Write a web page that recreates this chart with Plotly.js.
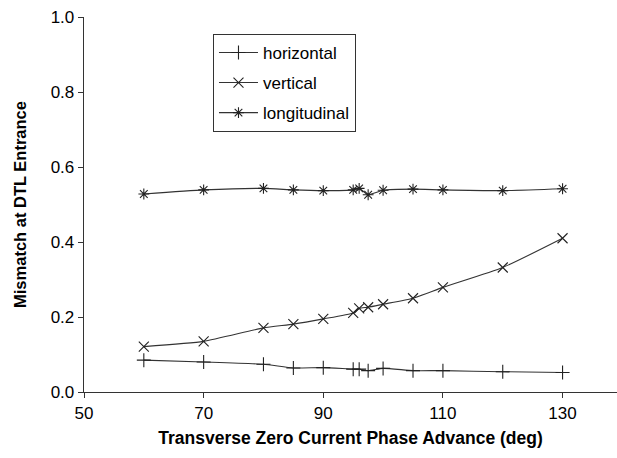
<!DOCTYPE html>
<html>
<head>
<meta charset="utf-8">
<script src="https://cdn.plot.ly/plotly-3.0.1.min.js"></script>
<style>html,body{margin:0;padding:0;background:#fff;}#chart{width:617px;height:458px;}</style>
</head>
<body>
<div id="chart"></div>
<script>
var phaseAdvance = [60, 70, 80, 85, 90, 95, 96, 97.5, 100, 105, 110, 120, 130];
var horizontal   = [0.085, 0.080, 0.074, 0.064, 0.065, 0.061, 0.061, 0.057, 0.063, 0.057, 0.057, 0.054, 0.052];
var vertical     = [0.121, 0.135, 0.171, 0.181, 0.195, 0.211, 0.223, 0.226, 0.234, 0.250, 0.279, 0.332, 0.410];
var longitudinal = [0.528, 0.539, 0.543, 0.539, 0.537, 0.539, 0.543, 0.526, 0.538, 0.541, 0.539, 0.537, 0.542];
var seriesNames  = ["horizontal", "vertical", "longitudinal"];
var xTicks = [50, 70, 90, 110, 130];
var yTicks = [0.0, 0.2, 0.4, 0.6, 0.8, 1.0];

var symbols = ["cross-thin-open", "x-thin-open", "asterisk-open"];
var sizes = [10, 10, 9];
var ys = [horizontal, vertical, longitudinal];
var traces = ys.map(function (y, i) {
  return {
    x: phaseAdvance, y: y, name: seriesNames[i], type: "scatter", mode: "lines+markers",
    legendgroup: "g" + i,
    line: {color: "#333", width: 1.1, shape: "spline", smoothing: 0.5},
    marker: {symbol: symbols[i], size: sizes[i], color: "#222", line: {color: "#222", width: 1.1}}
  };
});

var fam = "Liberation Sans, Arial, sans-serif";
var layout = {
  width: 617, height: 458,
  margin: {l: 84, r: 0, t: 17, b: 66},
  paper_bgcolor: "#fff", plot_bgcolor: "#fff",
  font: {family: fam, size: 17, color: "#000"},
  showlegend: true,
  legend: {
    x: 0.242, y: 0.955, xanchor: "left", yanchor: "top",
    bordercolor: "#333", borderwidth: 1, bgcolor: "#fff",
    traceorder: "grouped", tracegroupgap: 5, itemwidth: 39,
    font: {family: fam, size: 17, color: "#000"}
  },
  xaxis: {
    range: [50, 139.1], tickvals: xTicks, ticktext: xTicks.map(String),
    showgrid: false, zeroline: false, showline: true, linecolor: "#333", linewidth: 1.3,
    ticks: "outside", ticklen: 5, tickcolor: "#333", tickfont: {family: fam, size: 17},
    title: {text: "Transverse Zero Current Phase Advance (deg)", font: {family: fam, size: 17.5, weight: "bold"}, standoff: 10}
  },
  yaxis: {
    range: [0, 1.0], tickvals: yTicks, ticktext: yTicks.map(function (v) { return v.toFixed(1); }),
    showgrid: false, zeroline: false, showline: true, linecolor: "#333", linewidth: 1.3,
    ticks: "outside", ticklen: 5, tickcolor: "#333", tickfont: {family: fam, size: 17},
    title: {text: "Mismatch at DTL Entrance", font: {family: fam, size: 16.5, weight: "bold"}, standoff: 20}
  }
};
Plotly.newPlot("chart", traces, layout, {displayModeBar: false, staticPlot: true});
</script>
</body>
</html>
